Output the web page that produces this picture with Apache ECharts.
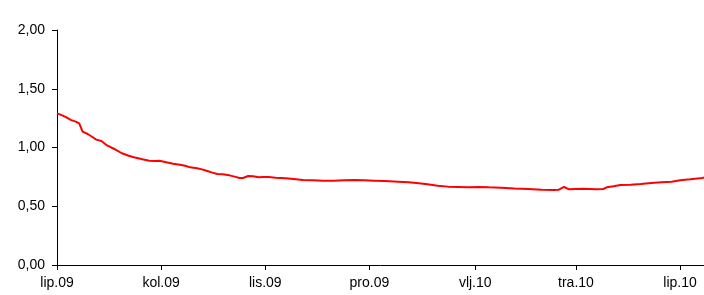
<!DOCTYPE html>
<html>
<head>
    <meta charset="utf-8">
    <title>ECharts</title>
    <script src="https://cdn.jsdelivr.net/npm/echarts@6/dist/echarts.min.js"></script>
</head>
<body style="margin:0">
    <div id="main" style="width: 704px;height:295px;"></div>
    <script type="text/javascript">
        // datumi i vrijednosti ocitane sa slike
        let dates = [
            '2009-06-01', '2009-06-03', '2009-06-06', '2009-06-09', '2009-06-12', '2009-06-14',
            '2009-06-16', '2009-06-19', '2009-06-22', '2009-06-24', '2009-06-27', '2009-06-30',
            '2009-07-03', '2009-07-05', '2009-07-09', '2009-07-13', '2009-07-16', '2009-07-21',
            '2009-07-25', '2009-07-29', '2009-07-31', '2009-08-04', '2009-08-08', '2009-08-12',
            '2009-08-15', '2009-08-18', '2009-08-22', '2009-08-25', '2009-08-28', '2009-08-31',
            '2009-09-03', '2009-09-06', '2009-09-10', '2009-09-13', '2009-09-16', '2009-09-18',
            '2009-09-21', '2009-09-24', '2009-09-27', '2009-09-30', '2009-10-03', '2009-10-07',
            '2009-10-13', '2009-10-19', '2009-10-23', '2009-10-29', '2009-11-04', '2009-11-10',
            '2009-11-16', '2009-11-22', '2009-11-28', '2009-12-04', '2009-12-10', '2009-12-18',
            '2009-12-24', '2009-12-30', '2010-01-04', '2010-01-10', '2010-01-16', '2010-01-22',
            '2010-01-28', '2010-02-03', '2010-02-09', '2010-02-16', '2010-02-24', '2010-03-04',
            '2010-03-12', '2010-03-19', '2010-03-22', '2010-03-25', '2010-03-28', '2010-04-01',
            '2010-04-05', '2010-04-09', '2010-04-13', '2010-04-17', '2010-04-19', '2010-04-23',
            '2010-04-27', '2010-05-03', '2010-05-09', '2010-05-15', '2010-05-21', '2010-05-27',
            '2010-06-01', '2010-06-07', '2010-06-14', '2010-06-15'
        ]
        let values = [
            1.29, 1.28, 1.26, 1.235, 1.22, 1.205,
            1.135, 1.115, 1.087, 1.067, 1.055, 1.021,
            0.998, 0.985, 0.951, 0.93, 0.917, 0.90,
            0.888, 0.885, 0.888, 0.874, 0.862, 0.854,
            0.845, 0.831, 0.823, 0.814, 0.80, 0.786,
            0.774, 0.772, 0.763, 0.752, 0.74, 0.74,
            0.757, 0.755, 0.746, 0.749, 0.749, 0.743,
            0.738, 0.729, 0.723, 0.721, 0.718, 0.718,
            0.721, 0.723, 0.721, 0.718, 0.715, 0.709,
            0.704, 0.695, 0.687, 0.675, 0.667, 0.664,
            0.661, 0.664, 0.661, 0.658, 0.652, 0.647,
            0.641, 0.638, 0.641, 0.664, 0.644, 0.647,
            0.649, 0.647, 0.644, 0.647, 0.661, 0.670,
            0.681, 0.683, 0.689, 0.698, 0.704, 0.709,
            0.721, 0.729, 0.74, 0.745
        ]
        // oznake na x osi
        let tickDates = ['2009-06-01', '2009-08-01', '2009-10-01', '2009-12-01', '2010-02-01', '2010-04-01', '2010-06-01']
        let tickLabels = ['lip.09', 'kol.09', 'lis.09', 'pro.09', 'vlj.10', 'tra.10', 'lip.10']
        let yTicks = [0, 0.5, 1, 1.5, 2]
        let startDate = '2009-06-01'
        let endDate = '2010-06-15'

        // broj dana od pocetnog datuma
        function day(s) {
            let a = echarts.number.parseDate(startDate).getTime()
            let b = echarts.number.parseDate(s).getTime()
            return Math.round((b - a) / 86400000)
        }

        let tickDays = tickDates.map(day)
        let seriesData = dates.map(function (d, i) { return [day(d), values[i]] })

        let myChart = echarts.init(document.getElementById('main'));

        let option = {
            animation: false,
            textStyle: { fontFamily: 'Liberation Sans, Arial, sans-serif' },
            grid: {
                left: 57,
                right: 0,
                top: 30,
                bottom: 30
            },
            xAxis: {
                type: 'value',
                min: 0,
                max: day(endDate),
                axisLine: { lineStyle: { color: '#000', width: 1 } },
                axisTick: { show: true, length: 5, customValues: tickDays, lineStyle: { color: '#000' } },
                axisLabel: {
                    customValues: tickDays,
                    color: '#000',
                    fontSize: 14,
                    margin: 11,
                    formatter: function (v) {
                        let i = tickDays.indexOf(v)
                        return i >= 0 ? tickLabels[i] : ''
                    }
                },
                splitLine: { show: false }
            },
            yAxis: {
                type: 'value',
                min: yTicks[0],
                max: yTicks[yTicks.length - 1],
                interval: 0.5,
                axisLine: { show: true, lineStyle: { color: '#000', width: 1 } },
                axisTick: { show: true, length: 5, lineStyle: { color: '#000' } },
                axisLabel: {
                    color: '#000',
                    fontSize: 14,
                    margin: 12,
                    formatter: function (v) { return v.toFixed(2).replace('.', ',') }
                },
                splitLine: { show: false }
            },
            series: [
                {
                    type: 'line',
                    data: seriesData,
                    showSymbol: false,
                    lineStyle: { color: '#ff0000', width: 2 },
                    itemStyle: { color: '#ff0000' }
                }
            ]
        };

        myChart.setOption(option);
    </script>
</body>
</html>
